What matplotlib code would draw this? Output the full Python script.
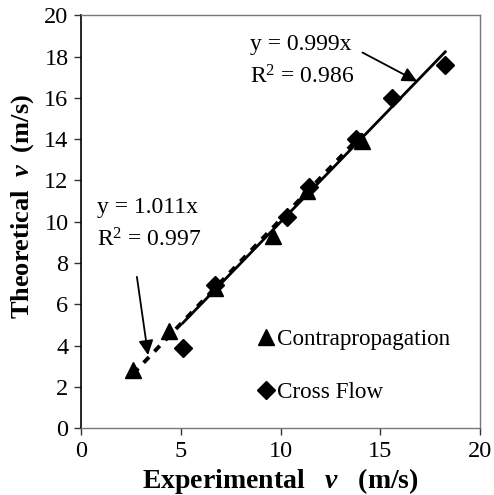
import matplotlib
matplotlib.use("Agg")
import matplotlib.pyplot as plt
import numpy as np

plt.rcParams['font.family'] = ['Liberation Serif', 'DejaVu Serif']
plt.rcParams['mathtext.fontset'] = 'custom'
plt.rcParams['mathtext.rm'] = 'Liberation Serif'
plt.rcParams['mathtext.it'] = 'Liberation Serif:italic:bold'
plt.rcParams['mathtext.bf'] = 'Liberation Serif:bold'

# Data
contra_x = [2.6, 4.4, 6.7, 9.6, 11.3, 14.1]
contra_y = [2.8, 4.7, 6.8, 9.3, 11.5, 13.9]
cross_x = [5.1, 6.7, 10.3, 11.4, 13.8, 15.6, 18.25]
cross_y = [3.9, 6.95, 10.25, 11.7, 14.0, 16.0, 17.6]
contra_slope = 1.011
cross_slope = 0.999
x_ticks = [0, 5, 10, 15, 20]
y_ticks = [0, 2, 4, 6, 8, 10, 12, 14, 16, 18, 20]

fig = plt.figure(figsize=(4.94, 4.95), dpi=100)
ax = fig.add_axes([0.164, 0.135, 0.808, 0.834])

# trend lines
cx = np.array([min(contra_x), max(contra_x)])
ax.plot(cx, contra_slope * cx, color='black', lw=2.8, linestyle=(0, (2.0, 2.0)), zorder=2)
fx = np.array([min(cross_x), max(cross_x)])
ax.plot(fx, cross_slope * fx, color='black', lw=2.0, zorder=2)

tri, = ax.plot(contra_x, contra_y, linestyle='none', marker='^', ms=12, color='black',
               label='Contrapropagation', zorder=3)
dia, = ax.plot(cross_x, cross_y, linestyle='none', marker='D', ms=9.5, color='black',
               label='Cross Flow', zorder=3)

ax.set_xlim(0, 20)
ax.set_ylim(0, 20)
ax.set_xticks(x_ticks)
ax.set_yticks(y_ticks)
ax.tick_params(axis='both', labelsize=17.5, direction='out', length=5, width=1, color='#333333')
ax.tick_params(axis='x', pad=4)
ax.tick_params(axis='y', pad=4)
for s in ['top', 'right', 'bottom']:
    ax.spines[s].set_color('#777777')
    ax.spines[s].set_linewidth(1.0)
ax.spines['left'].set_color('black')
ax.spines['left'].set_linewidth(1.2)

ax.set_xlabel(r'Experimental   $\mathit{v}$   (m/s)', fontsize=20, fontweight='bold', labelpad=3)
ax.set_ylabel(r'Theoretical  $\mathit{v}$  (m/s)', fontsize=19, fontweight='bold')
ax.yaxis.set_label_coords(-0.113, 0.536)

# annotations
ax.text(8.45, 16.45, 'y = 0.999x\nR$^2$ = 0.986', fontsize=17, ha='left', va='bottom',
        linespacing=1.6)
ax.annotate('', xy=(16.84, 16.8), xytext=(14.1, 18.2),
            arrowprops=dict(arrowstyle='-|>', color='black', lw=1.3, mutation_scale=22,
                            shrinkA=0, shrinkB=0))
ax.text(0.8, 8.55, 'y = 1.011x\nR$^2$ = 0.997', fontsize=17, ha='left', va='bottom',
        linespacing=1.6)
ax.annotate('', xy=(3.36, 3.54), xytext=(2.8, 7.33),
            arrowprops=dict(arrowstyle='-|>', color='black', lw=1.3, mutation_scale=22,
                            shrinkA=0, shrinkB=0))

ax.legend(handles=[tri, dia], loc='upper left', bbox_to_anchor=(0.445, 0.24), frameon=False,
          fontsize=16.7, handlelength=0.6, handletextpad=0.2, labelspacing=1.35,
          borderpad=0, borderaxespad=0)

fig.savefig('out.png', dpi=100)
